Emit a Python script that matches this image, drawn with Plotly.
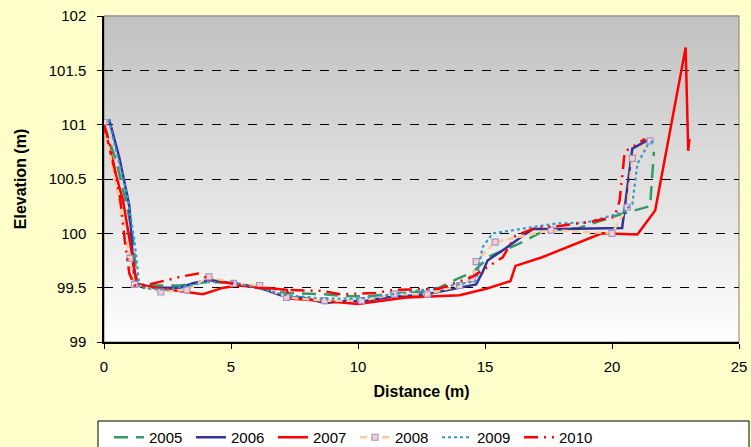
import plotly.graph_objects as go

# ---- data ----
x2005 = [0.0, 0.5, 0.95, 1.15, 1.3, 2.0, 3.0, 4.0, 5.0, 6.0, 7.2, 8.6, 9.7, 10.5, 11.4, 12.7, 13.2, 13.9, 14.5, 15.2, 16.3, 17.3, 18.7, 20.4, 21.5, 21.65]
y2005 = [101.0, 100.65, 100.2, 99.93, 99.53, 99.52, 99.52, 99.55, 99.55, 99.5, 99.45, 99.44, 99.42, 99.42, 99.45, 99.46, 99.5, 99.58, 99.64, 99.79, 99.9, 100.02, 100.05, 100.18, 100.25, 100.75]

x2006 = [0.2, 0.6, 1.0, 1.2, 2.0, 3.0, 3.5, 4.15, 5.1, 6.1, 7.2, 7.8, 8.7, 9.7, 10.1, 11.1, 12.7, 14.0, 14.65, 14.9, 15.1, 15.8, 16.5, 16.9, 18.0, 20.4, 20.8, 21.5]
y2006 = [101.05, 100.7, 100.25, 99.54, 99.5, 99.5, 99.54, 99.57, 99.54, 99.5, 99.41, 99.41, 99.36, 99.38, 99.37, 99.41, 99.44, 99.5, 99.53, 99.64, 99.75, 99.86, 99.98, 100.04, 100.04, 100.05, 100.78, 100.87]

x2007 = [0.0, 0.4, 0.75, 1.3, 2.0, 3.9, 4.7, 5.3, 7.2, 7.3, 8.6, 10.0, 11.9, 12.8, 14.0, 15.05, 16.0, 16.2, 17.25, 19.6, 21.0, 21.7, 22.9, 23.0, 23.05]
y2007 = [101.0, 100.6, 100.3, 99.53, 99.5, 99.44, 99.5, 99.52, 99.48, 99.4, 99.38, 99.35, 99.41, 99.42, 99.43, 99.49, 99.56, 99.7, 99.78, 100.0, 99.99, 100.21, 101.71, 100.76, 100.87]

x2008 = [0.0, 1.02, 1.2, 2.24, 3.26, 4.13, 5.1, 6.13, 7.19, 8.68, 10.14, 11.43, 12.73, 14.0, 14.5, 14.65, 15.4, 17.6, 20.0, 20.6, 20.8, 21.5]
y2008 = [101.02, 99.77, 99.53, 99.46, 99.48, 99.6, 99.54, 99.52, 99.41, 99.38, 99.38, 99.44, 99.44, 99.52, 99.58, 99.74, 99.92, 100.03, 100.0, 100.24, 100.69, 100.85]

x2009 = [0.2, 0.37, 0.9, 1.2, 1.4, 2.5, 4.0, 5.0, 6.0, 7.2, 8.6, 10.0, 11.4, 13.2, 14.65, 14.9, 15.3, 16.5, 17.8, 19.0, 20.0, 20.4, 20.8, 21.0, 21.4, 21.65]
y2009 = [101.05, 100.86, 100.37, 99.93, 99.5, 99.48, 99.55, 99.55, 99.5, 99.43, 99.4, 99.4, 99.44, 99.5, 99.56, 99.87, 100.0, 100.04, 100.09, 100.1, 100.16, 100.19, 100.27, 100.64, 100.81, 100.86]

x2010 = [0.0, 0.25, 0.63, 0.82, 1.0, 1.2, 1.8, 2.6, 3.0, 3.7, 4.3, 5.0, 6.0, 7.2, 8.6, 9.3, 10.7, 11.4, 12.6, 13.2, 14.5, 15.7, 16.2, 17.0, 18.0, 19.0, 20.1, 20.3, 20.5, 21.3]
y2010 = [101.0, 100.8, 100.33, 99.93, 99.63, 99.52, 99.53, 99.58, 99.6, 99.63, 99.56, 99.54, 99.5, 99.48, 99.47, 99.44, 99.45, 99.48, 99.49, 99.49, 99.6, 99.78, 99.98, 100.05, 100.07, 100.1, 100.15, 100.3, 100.75, 100.87]

series_names = ["2005", "2006", "2007", "2008", "2009", "2010"]
x_ticks = [0, 5, 10, 15, 20, 25]
y_ticks = [99, 99.5, 100, 100.5, 101, 101.5, 102]
y_tick_text = ["99", "99.5", "100", "100.5", "101", "101.5", "102"]

# ---- figure ----
W, H = 751, 447
ML, MR, MT, MB = 104, 12, 16, 105
pw = W - ML - MR
ph = H - MT - MB

fig = go.Figure()

def add(x, y, name, color, dash, width=2.5, marker=None):
    kw = dict(x=x, y=y, name=name, mode="lines",
              line=dict(color=color, width=width, dash=dash))
    if marker is not None:
        kw["mode"] = "lines+markers"
        kw["marker"] = marker
    fig.add_trace(go.Scatter(**kw))

add(x2005, y2005, series_names[0], "#339966", "14px,8px")
add(x2006, y2006, series_names[1], "#333399", "solid")
add(x2007, y2007, series_names[2], "#FF0000", "solid")
add(x2008, y2008, series_names[3], "#FFCC99", "7px,4px",
    marker=dict(symbol="square", size=6, color="#FFCCCC",
                line=dict(color="#9999CC", width=1.2)))
add(x2009, y2009, series_names[4], "#3399CC", "dot", width=2.2)
add(x2010, y2010, series_names[5], "#FF0000", "14px,6px,2px,6px,2px,6px")

shapes = []
# gradient plot background
n = 60
for i in range(n):
    t = i / n
    c = int(round(192 + (255 - 192) * (1 - (i + 0.5) / n)))
    col = f"rgb({c},{c},{c})"
    shapes.append(dict(type="rect", xref="x domain", yref="y domain",
                       x0=0, x1=1, y0=t, y1=(i + 1) / n + 0.002,
                       fillcolor=col, line=dict(width=0), layer="below"))
# plot border (gray)
shapes.append(dict(type="rect", xref="x domain", yref="y domain", x0=0, x1=1, y0=0, y1=1,
                   line=dict(color="#808080", width=1), fillcolor="rgba(0,0,0,0)", layer="below"))
# legend box
lx0 = (98 - ML) / pw
lx1 = (749 - ML) / pw
ly0 = (H - MB - 421) / ph
ly1 = (H - MB - 460) / ph
shapes.append(dict(type="rect", xref="paper", yref="paper", x0=lx0, x1=lx1, y0=ly1, y1=ly0,
                   line=dict(color="black", width=1), fillcolor="white", layer="below"))

fig.update_layout(
    width=W, height=H,
    margin=dict(l=ML, r=MR, t=MT, b=MB, autoexpand=False),
    paper_bgcolor="#FFFFCC",
    plot_bgcolor="rgba(0,0,0,0)",
    font=dict(family="Liberation Sans, Arial, sans-serif", size=15, color="black"),
    shapes=shapes,
    showlegend=True,
    legend=dict(orientation="h", x=(109 - ML) / pw, xanchor="left",
                y=(H - MB - 421) / ph, yanchor="top",
                bgcolor="rgba(0,0,0,0)", borderwidth=0,
                font=dict(size=15), entrywidth=37, entrywidthmode="pixels",
                itemwidth=30, tracegroupgap=0),
    xaxis=dict(range=[0, 25], tickvals=x_ticks, showgrid=False, zeroline=False,
               showline=True, linecolor="black", linewidth=1.5, automargin=False,
               ticks="outside", ticklen=5, tickcolor="black", ticklabelstandoff=5,
               title=dict(text="<b>Distance (m)</b>", font=dict(size=16), standoff=12)),
    yaxis=dict(range=[99, 102], tickvals=y_ticks, ticktext=y_tick_text,
               showgrid=True, gridcolor="black", gridwidth=1, griddash="dash",
               zeroline=False, showline=True, linecolor="black", linewidth=1.5, automargin=False,
               ticks="outside", ticklen=5, tickcolor="black", ticklabelstandoff=8,
               title=dict(text="<b>Elevation (m)</b>", font=dict(size=16), standoff=18)),
)

fig.write_html("out.html")
